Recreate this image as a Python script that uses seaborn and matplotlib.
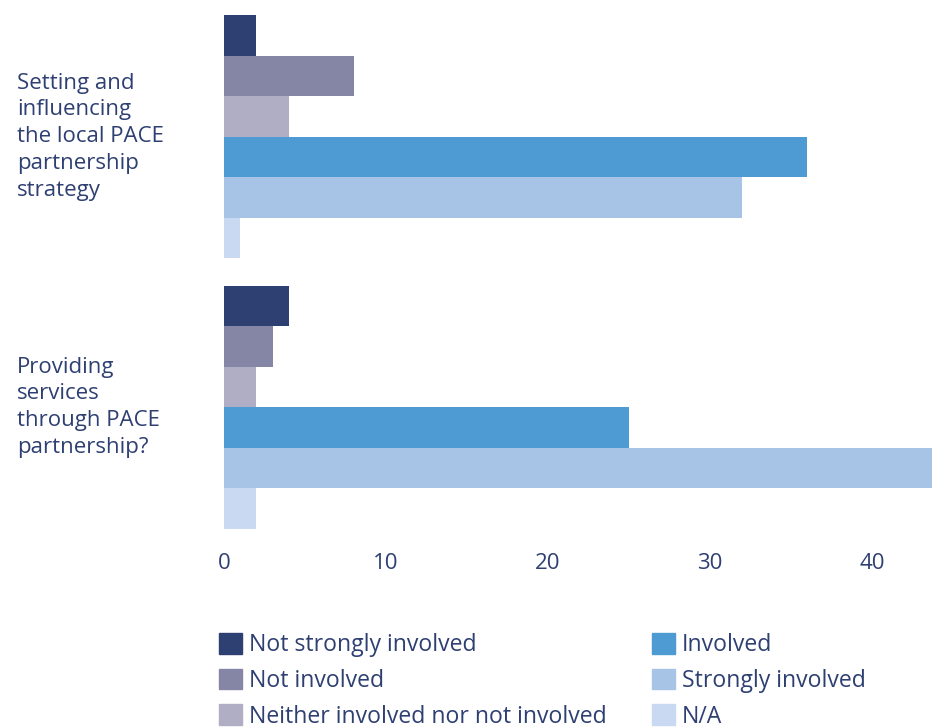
import matplotlib
matplotlib.use("Agg")
import matplotlib.pyplot as plt
import matplotlib.transforms as mtransforms
import seaborn as sns
import pandas as pd

# Survey responses per activity
activities = [
    "Setting and\ninfluencing\nthe local PACE\npartnership\nstrategy",
    "Providing\nservices\nthrough PACE\npartnership?",
]
responses = [
    "Not strongly involved",
    "Not involved",
    "Neither involved nor not involved",
    "Involved",
    "Strongly involved",
    "N/A",
]
setting_strategy = [2, 8, 4, 36, 32, 1]
providing_services = [4, 3, 2, 25, 47, 2]

colors = ["#2E3F72", "#8585A5", "#B0AEC5", "#4E9AD2", "#A7C4E7", "#C8D9F1"]
text_color = "#2E3F72"

rows = []
for act, vals in zip(activities, [setting_strategy, providing_services]):
    for resp, v in zip(responses, vals):
        rows.append({"activity": act, "response": resp, "count": v})
df = pd.DataFrame(rows)

sns.set_theme(style="white")
plt.rcParams["font.family"] = ["Open Sans", "DejaVu Sans"]

W, H = 932, 727
fig = plt.figure(figsize=(W / 100, H / 100), dpi=100)
ax = fig.add_axes([224 / W, 1 - 529 / H, (W - 224) / W, (529 - 15) / H])

sns.barplot(
    data=df, y="activity", x="count", hue="response",
    order=activities, hue_order=responses, palette=colors,
    orient="h", width=0.9, linewidth=0, saturation=1, ax=ax, legend=False,
)

ax.set_xlim(0, (W - 224) / 16.2)
ax.set_ylim(1.45, -0.45)
ax.set_xticks([0, 10, 20, 30, 40])
ax.tick_params(axis="x", length=0, pad=17, labelsize=16, labelcolor=text_color)
ax.set_yticks([])
ax.set_xlabel("")
ax.set_ylabel("")
for s in ax.spines.values():
    s.set_visible(False)

# Category labels, left-aligned at the figure edge
trans = mtransforms.blended_transform_factory(fig.transFigure, ax.transData)
for i, act in enumerate(activities):
    ax.text(17 / W, i, act, transform=trans, ha="left", va="center",
            fontsize=16, color=text_color, linespacing=1.36)

# Legend below the chart, two columns
handles = [plt.Rectangle((0, 0), 1, 1, color=c) for c in colors]
leg = fig.legend(
    handles, responses, loc="upper left",
    bbox_to_anchor=(219 / W, 1 - 633 / H), ncol=2, frameon=False,
    fontsize=16.6, handlelength=1.0, handleheight=1.0, handletextpad=0.3,
    columnspacing=1.95, labelspacing=0.5, borderpad=0, borderaxespad=0,
)
for t in leg.get_texts():
    t.set_color(text_color)

fig.savefig("out.png", dpi=100)
